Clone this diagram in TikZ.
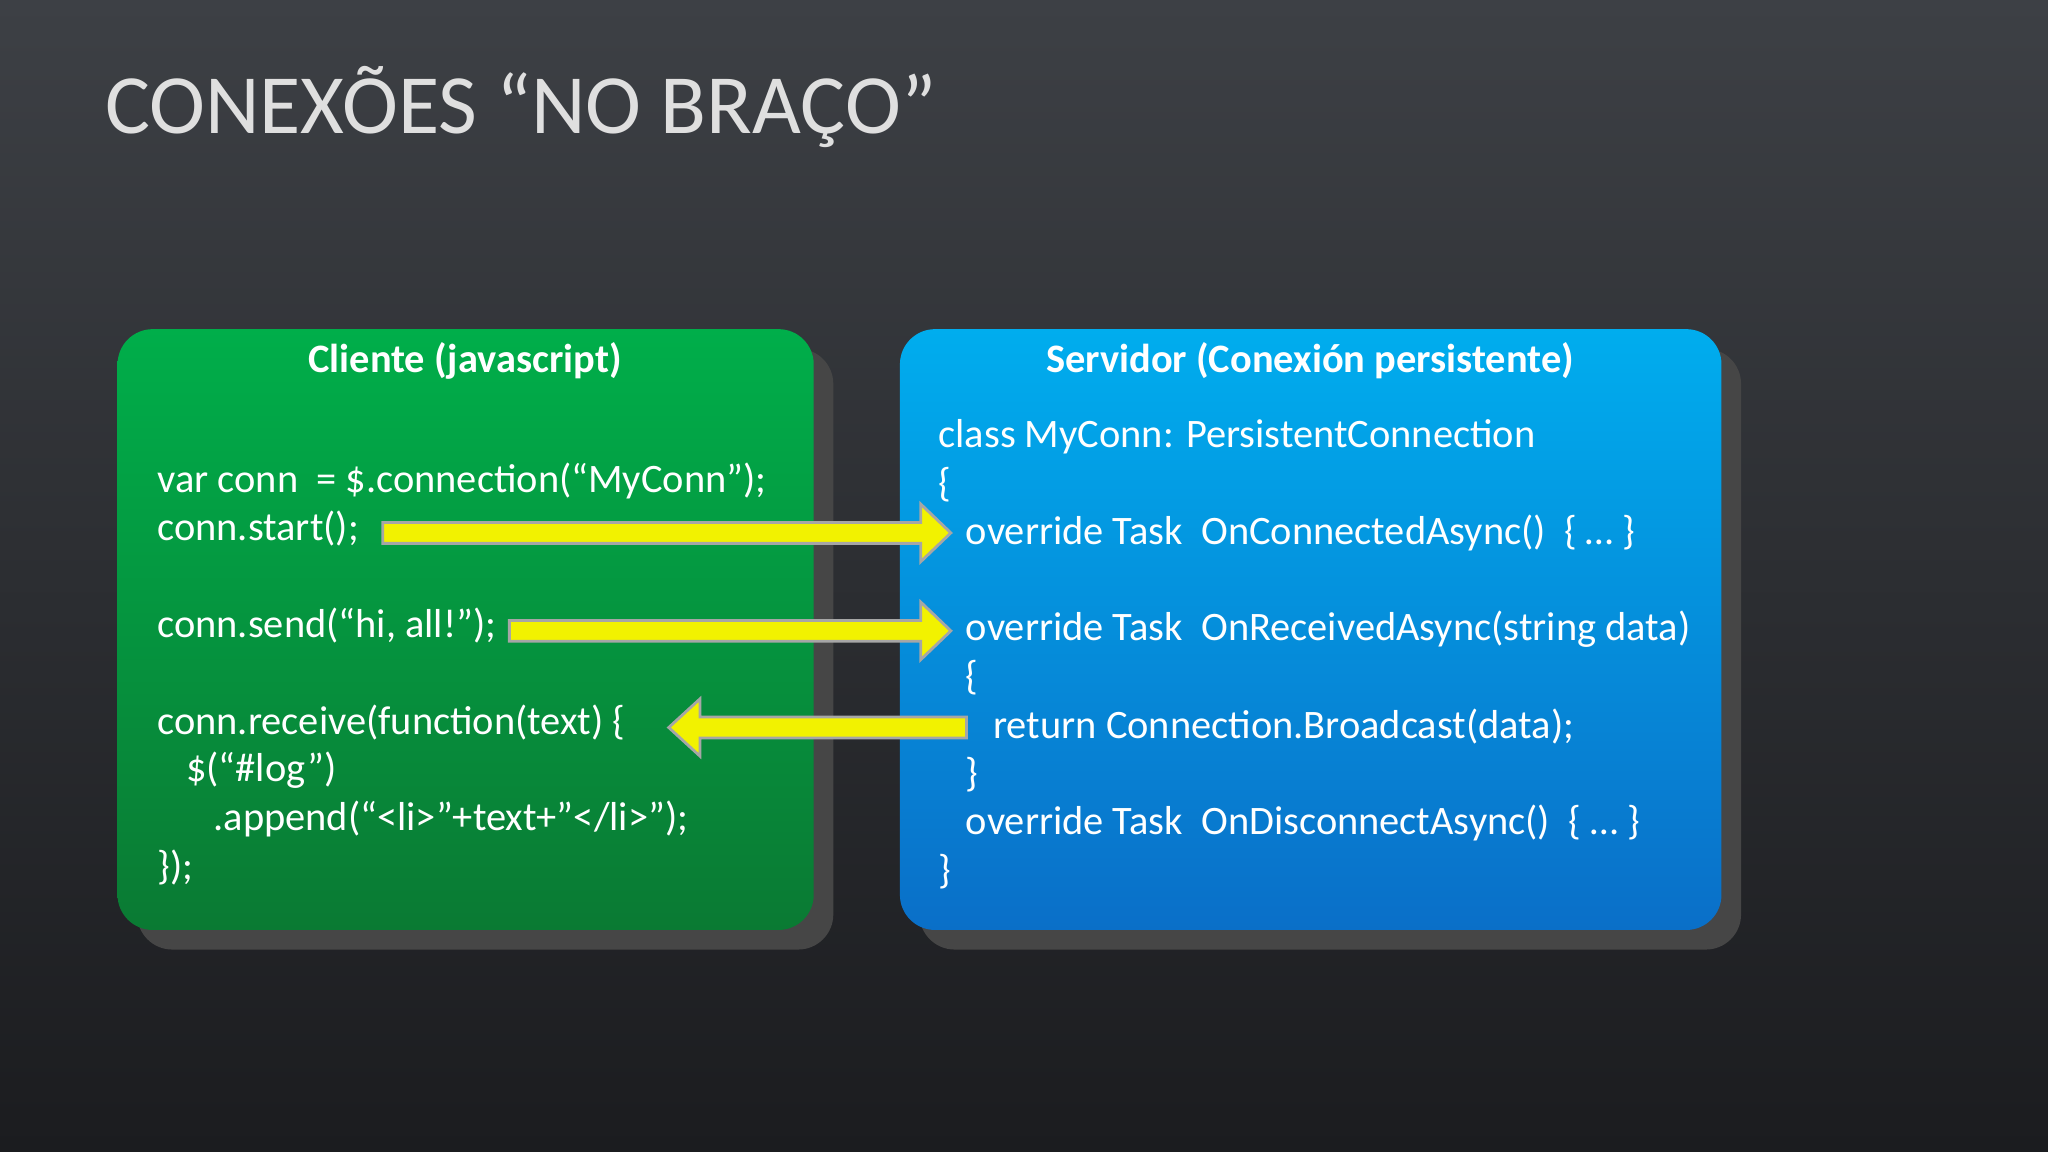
\documentclass[tikz,border=0pt]{standalone}
\usepackage{fontspec}
\setmainfont{Carlito}
\definecolor{bgtop}{HTML}{3D4045}
\definecolor{bgbot}{HTML}{1B1C1F}
\definecolor{gtop}{HTML}{00AE4A}
\definecolor{gbot}{HTML}{0A7A33}
\definecolor{btop}{HTML}{00ADEE}
\definecolor{bbot}{HTML}{0A6FC8}
\definecolor{ayel}{HTML}{F2F200}
\tikzset{
  code/.style={anchor=west,text=white,font=\fontsize{11.5pt}{13pt}\selectfont,inner sep=0pt},
  head/.style={text=white,font=\bfseries\fontsize{11.5pt}{13pt}\selectfont},
  shadowbox/.style={fill=gray!55!black,rounded corners=10pt},
  yarrow/.style={fill=ayel,draw=gray!70,line width=0.8pt,line join=miter}
}
\begin{document}
\begin{tikzpicture}[x=0.013061cm,y=-0.013061cm]
\shade[top color=bgtop,bottom color=bgbot] (0,0) rectangle (1568,882);
\useasboundingbox (0,0) rectangle (1568,882);
\node[anchor=west,text=gray!25,font=\fontsize{24pt}{27pt}\selectfont,inner sep=0pt] (title) at (80,82) {CONEXÕES “NO BRAÇO”};
% boxes
\fill[shadowbox] (105,267) rectangle (638,727);
\fill[shadowbox] (704,267) rectangle (1333,727);
\shade[top color=gtop,bottom color=gbot,rounded corners=10pt] (90,252) rectangle (623,712);
\shade[top color=btop,bottom color=bbot,rounded corners=10pt] (689,252) rectangle (1318,712);
\node[head] (hc) at (356,276) {Cliente (javascript)};
\node[head] (hs) at (1003,276) {Servidor (Conexión persistente)};
% client code
\node[code] (c1) at (120,368) {var conn\ \ = \$.connection(“MyConn”);};
\node[code] (c2) at (120,405) {conn.start();};
\node[code] (c3) at (120,479) {conn.send(“hi, all!”);};
\node[code] (c4) at (120,553) {conn.receive(function(text) \{};
\node[code] (c5) at (142,590) {\$(“\#log”)};
\node[code] (c6) at (163,627) {.append(“<li>”+text+”</li>”);};
\node[code] (c7) at (120,664) {\});};
% server code
\node[code] (s1) at (718,334) {class MyConn: PersistentConnection};
\node[code] (s2) at (718,371) {\{};
\node[code] (s3) at (739,408) {override Task\ \ OnConnectedAsync()\ \ \{ … \}};
\node[code] (s4) at (739,482) {override Task\ \ OnReceivedAsync(string data)};
\node[code] (s5) at (739,519) {\{};
\node[code] (s6) at (760,556) {return Connection.Broadcast(data);};
\node[code] (s7) at (739,593) {\}};
\node[code] (s8) at (739,630) {override Task\ \ OnDisconnectAsync()\ \ \{ … \}};
\node[code] (s9) at (718,667) {\}};
% arrows
\draw[yarrow] (293,400) -- (705,400) -- (705,386) -- (728,408) -- (705,430) -- (705,416) -- (293,416) -- cycle;
\draw[yarrow] (390,475) -- (705,475) -- (705,461) -- (728,483) -- (705,505) -- (705,491) -- (390,491) -- cycle;
\draw[yarrow] (740,549) -- (536,549) -- (536,535) -- (512,557) -- (536,579) -- (536,565) -- (740,565) -- cycle;
\end{tikzpicture}
\end{document}
